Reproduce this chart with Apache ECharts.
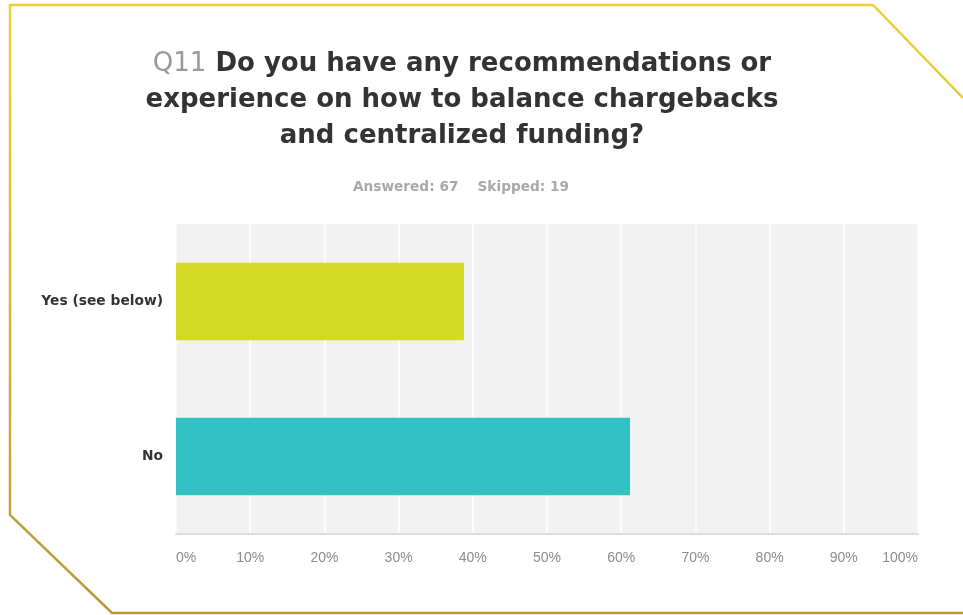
<!DOCTYPE html>
<html>
<head>
<meta charset="utf-8">
<script src="https://cdn.jsdelivr.net/npm/echarts@6/dist/echarts.min.js"></script>
<style>
  html, body { margin: 0; padding: 0; background: #ffffff; }
  #chart { width: 963px; height: 615px; }
</style>
</head>
<body>
<div id="chart"></div>
<script>
// Survey question and response counts
const questionNo = 'Q11';
const questionLines = [
  'Do you have any recommendations or',
  'experience on how to balance chargebacks',
  'and centralized funding?'
];
const answered = 67;
const skipped = 19;

const categories = ['Yes (see below)', 'No'];
const percentValues = [38.81, 61.19];
const barColors = ['#d4da24', '#33c1c3'];
const tickLabels = ['0%', '10%', '20%', '30%', '40%', '50%', '60%', '70%', '80%', '90%', '100%'];

const wideFont = 'DejaVu Sans, Verdana, sans-serif';
const plainFont = 'Liberation Sans, Arial, sans-serif';

const chart = echarts.init(document.getElementById('chart'), null, { renderer: 'canvas' });

const titleText = '{q|' + questionNo + '} ' + questionLines[0] + '\n' + questionLines.slice(1).join('\n');

chart.setOption({
  backgroundColor: '#ffffff',
  animation: false,
  title: [{
    text: titleText,
    left: 457,
    top: 41,
    textAlign: 'center',
    textStyle: {
      fontFamily: wideFont,
      fontSize: 26,
      fontWeight: 'bold',
      color: '#333333',
      lineHeight: 36,
      rich: {
        q: { fontSize: 26, fontWeight: 'normal', color: '#9a9a9a', fontFamily: wideFont, lineHeight: 36 }
      }
    }
  }, {
    text: 'Answered: ' + answered + '    Skipped: ' + skipped,
    left: 456,
    top: 175,
    textAlign: 'center',
    textStyle: {
      fontFamily: wideFont,
      fontSize: 13.7,
      fontWeight: 'bold',
      color: '#a8a8a8'
    }
  }],
  grid: {
    left: 176,
    top: 224,
    width: 742,
    height: 310,
    show: true,
    backgroundColor: '#f2f2f2',
    borderWidth: 0
  },
  xAxis: {
    type: 'value',
    min: 0,
    max: 100,
    interval: 10,
    axisLine: { show: true, lineStyle: { color: '#dcdcdc', width: 2 } },
    axisTick: { show: false },
    splitLine: { show: true, lineStyle: { color: '#ffffff', width: 1.5 } },
    axisLabel: {
      margin: 17,
      color: '#8c8c8c',
      fontSize: 14,
      fontFamily: plainFont,
      alignMinLabel: 'left',
      alignMaxLabel: 'right',
      formatter: function (v) { return tickLabels[Math.round(v / 10)]; }
    }
  },
  yAxis: {
    type: 'category',
    inverse: true,
    data: categories,
    axisLine: { show: false },
    axisTick: { show: false },
    splitLine: { show: false },
    axisLabel: {
      margin: 13,
      color: '#333333',
      fontSize: 13.8,
      fontWeight: 'bold',
      fontFamily: wideFont
    }
  },
  series: [{
    type: 'bar',
    barWidth: '50%',
    data: percentValues.map(function (v, i) {
      return { value: v, itemStyle: { color: barColors[i] } };
    }),
    label: { show: false }
  }],
  graphic: [{
    type: 'polyline',
    silent: true,
    shape: {
      points: [[963, 98], [873, 5], [10, 5], [10, 515], [112, 613], [963, 613]]
    },
    style: {
      fill: null,
      lineWidth: 2.5,
      stroke: new echarts.graphic.LinearGradient(0, 0, 0, 1, [
        { offset: 0, color: '#f0cf3a' },
        { offset: 1, color: '#b8973a' }
      ])
    }
  }]
});
</script>
</body>
</html>
